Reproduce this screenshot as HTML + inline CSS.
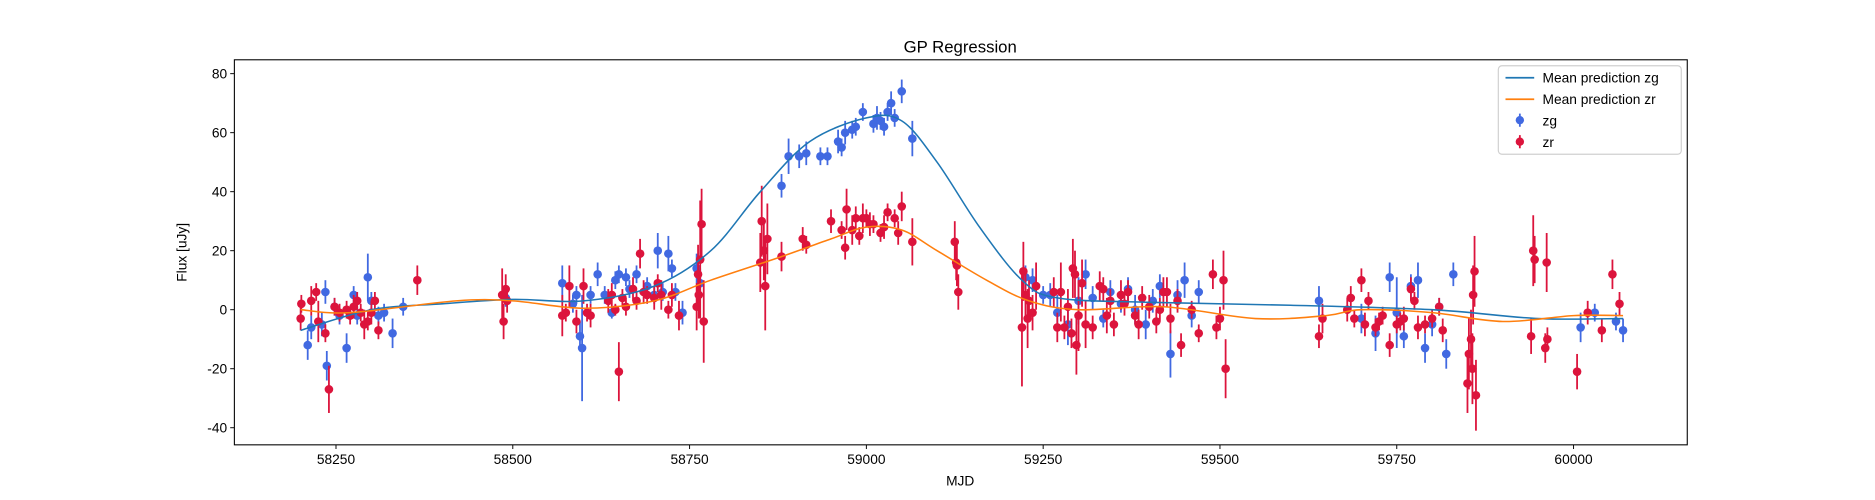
<!DOCTYPE html>
<html><head><meta charset="utf-8"><style>
body{margin:0;background:#fff;}
svg{display:block;}
svg text{font-family:"Liberation Sans","DejaVu Sans",sans-serif;fill:#000;}
</style></head><body>
<svg id="chart" width="1875" height="500" viewBox="0 0 1568 418.13" preserveAspectRatio="none" xmlns="http://www.w3.org/2000/svg">
<rect width="1568" height="419" fill="#fff"/>
<text x="803" y="44" font-size="14" text-anchor="middle">GP Regression</text>
<g id="plot"></g>
<g id="axes"></g>
<text x="803" y="406" font-size="11.5" text-anchor="middle">MJD</text>
<text transform="translate(156,211) rotate(-90)" font-size="11.5" text-anchor="middle">Flux [uJy]</text>
<g>
<rect x="1253" y="55" width="153" height="74" rx="3" fill="#fff" stroke="#ccc" opacity="0.9"/>
<line x1="1259" y1="65" x2="1283" y2="65" stroke="#1f77b4" stroke-width="1.5"/>
<text x="1290" y="69" font-size="11.5">Mean prediction zg</text>
<line x1="1259" y1="83" x2="1283" y2="83" stroke="#ff7f0e" stroke-width="1.5"/>
<text x="1290" y="87" font-size="11.5">Mean prediction zr</text>
<line x1="1271" y1="95" x2="1271" y2="106" stroke="#4169e1" stroke-width="1.5"/>
<circle cx="1271" cy="100.5" r="3.5" fill="#4169e1"/>
<text x="1290" y="105" font-size="11.5">zg</text>
<line x1="1271" y1="113" x2="1271" y2="124" stroke="#dc143c" stroke-width="1.5"/>
<circle cx="1271" cy="118.5" r="3.5" fill="#dc143c"/>
<text x="1290" y="123" font-size="11.5">zr</text>
</g>
</svg>
<script>
const xTicks=[58250,58500,58750,59000,59250,59500,59750,60000];
const yTicks=[-40,-20,0,20,40,60,80];
const zgMeanX=[58200,58300,58400,58500,58600,58700,58780,58850,58920,59000,59050,59100,59160,59220,59270,59400,59600,59800,59950,60070];
const zgMeanY=[-7,0,2,3.5,3,8,20,40,57,65,64,50,28,10,4,2.5,1.5,0,-3,-3];
const zrMeanX=[58200,58270,58420,58500,58600,58700,58780,58880,58950,59000,59050,59100,59170,59230,59300,59420,59550,59650,59700,59800,59900,60000,60070];
const zrMeanY=[0,-1,3,3,0.5,3,10,18,24,28,27,20,10,3,0,1,-3,-2,0,-1,-4,-2,-2];
const zgMjd=[58210,58215,58230,58235,58237,58248,58255,58265,58275,58280,58295,58300,58310,58318,58330,58345,58490,58570,58585,58590,58595,58598,58610,58620,58630,58640,58645,58650,58660,58665,58675,58690,58700,58705,58712,58720,58725,58730,58740,58760,58765,58880,58890,58905,58915,58935,58945,58960,58965,58970,58980,58985,58995,59010,59015,59020,59025,59030,59035,59040,59050,59065,59225,59235,59250,59260,59270,59285,59300,59310,59320,59335,59345,59360,59370,59380,59395,59405,59415,59430,59440,59450,59460,59470,59640,59700,59720,59740,59750,59760,59770,59780,59790,59800,59810,59820,59830,60010,60030,60060,60070];
const zgFlux=[-12,-6,-5,6,-19,1,-2,-13,5,-2,11,3,-2,-1,-8,1,4,9,2,5,-9,-13,5,12,5,-1,10,12,11,7,12,8,5,20,6,19,14,6,-1,14,9,42,52,52,53,52,52,57,55,60,61,62,67,63,65,64,62,67,70,65,74,58,11,10,5,5,-1,-5,3,12,4,-3,6,2,7,0,-5,3,8,-15,5,10,-2,6,3,-3,-8,11,-1,-9,8,10,-13,-5,1,-15,12,-6,-1,-4,-7];
const zgErr=[5,4,4,4,5,3,3,5,3,3,8,3,3,3,5,3,3,6,3,3,5,18,3,4,3,2,3,3,3,3,3,3,3,6,3,6,3,3,4,5,5,4,6,4,4,3,3,4,3,4,3,3,3,3,4,3,3,3,4,3,4,6,4,4,3,4,6,7,8,5,4,3,4,3,4,5,5,4,4,8,5,6,4,4,5,5,6,5,12,4,4,6,5,4,3,5,4,5,3,3,4];
const zrMjd=[58200,58201,58215,58222,58225,58235,58240,58248,58255,58265,58270,58275,58280,58285,58290,58295,58300,58305,58310,58365,58485,58487,58490,58492,58570,58575,58580,58590,58600,58605,58610,58635,58640,58645,58650,58655,58660,58670,58675,58680,58685,58690,58700,58705,58710,58720,58725,58735,58760,58762,58765,58767,58770,58763,58850,58852,58855,58857,58860,58880,58910,58915,58950,58965,58970,58972,58980,58985,58990,58995,59000,59005,59010,59020,59025,59030,59040,59045,59050,59065,59125,59127,59128,59130,59220,59222,59225,59228,59230,59235,59240,59265,59270,59275,59280,59285,59290,59292,59295,59297,59300,59305,59310,59320,59330,59335,59340,59345,59350,59360,59365,59370,59380,59385,59390,59400,59410,59415,59420,59425,59430,59440,59445,59460,59470,59490,59495,59500,59505,59508,59640,59645,59680,59685,59690,59700,59705,59710,59720,59725,59730,59740,59750,59755,59760,59770,59775,59780,59790,59800,59810,59815,59850,59852,59855,59857,59858,59860,59862,59940,59943,59945,59960,59962,59963,60005,60020,60040,60055,60065];
const zrFlux=[-3,2,3,6,-4,-8,-27,1,-1,0,-2,1,3,-1,-5,-4,-1,3,-7,10,5,-4,7,3,-2,-1,8,-4,8,-1,-2,3,5,0,-21,4,1,7,3,19,6,5,4,9,5,0,5,-2,1,12,17,29,-4,5,16,30,20,8,24,18,24,22,30,27,21,34,27,31,25,31,31,29,29,26,28,33,31,26,35,23,23,16,15,6,-6,13,5,-3,3,-1,8,6,-6,6,-6,1,-8,14,12,-12,-2,9,-5,-6,8,7,-2,3,-5,5,2,6,-2,-5,4,1,-4,0,6,6,-3,3,-12,0,-8,12,-6,-3,10,-20,-9,-3,0,4,-3,10,-5,3,-6,-4,-2,-12,-5,-4,-3,7,3,-6,-5,-3,1,-7,-25,-15,-10,-20,5,13,-29,-9,20,17,-13,16,-10,-21,-1,-7,12,2];
const zrErr=[4,3,5,3,7,3,8,3,3,3,3,4,3,3,5,3,4,3,3,5,9,6,5,4,7,3,7,4,6,3,4,4,4,2,10,3,3,4,3,5,4,3,4,3,5,3,4,5,8,10,20,12,14,8,10,12,10,15,12,5,4,3,4,3,4,7,5,4,3,5,3,4,3,3,4,3,3,4,5,8,7,6,7,6,20,10,8,10,7,6,8,5,5,10,4,6,5,10,8,10,12,8,8,4,5,4,6,4,4,5,4,4,3,5,4,4,4,4,5,5,5,4,4,3,3,5,4,4,10,10,4,5,4,4,3,4,4,3,3,3,3,4,3,3,4,4,3,4,3,3,3,4,10,12,10,12,10,12,12,6,12,8,5,10,4,6,4,4,5,4];

const L=196,R=1411,T=50,B=372;
const XMIN=58106.3,XMAX=60160.8,YMIN=-45.8,YMAX=84.7;
const sx=v=>L+(v-XMIN)/(XMAX-XMIN)*(R-L);
const sy=v=>B-(v-YMIN)/(YMAX-YMIN)*(B-T);
const NS='http://www.w3.org/2000/svg';
const plot=document.getElementById('plot'),axes=document.getElementById('axes');
function mk(tag,attrs,parent){const e=document.createElementNS(NS,tag);for(const k in attrs)e.setAttribute(k,attrs[k]);parent.appendChild(e);return e;}
function smooth(xs,ys){const p=xs.map((x,i)=>[sx(x),sy(ys[i])]);let d='M'+p[0][0]+','+p[0][1];
for(let i=0;i<p.length-1;i++){const p0=p[i-1]||p[i],p1=p[i],p2=p[i+1],p3=p[i+2]||p2;
d+=' C'+(p1[0]+(p2[0]-p0[0])/6)+','+(p1[1]+(p2[1]-p0[1])/6)+' '+(p2[0]-(p3[0]-p1[0])/6)+','+(p2[1]-(p3[1]-p1[1])/6)+' '+p2[0]+','+p2[1];}return d;}
function series(xs,ys,es,col,name){const g=mk('g',{},plot);


xs.forEach((x,i)=>{const l=mk('line',{x1:sx(x),x2:sx(x),y1:sy(ys[i]-es[i]),y2:sy(ys[i]+es[i]),stroke:col,'stroke-width':1.5},g);


const c=mk('circle',{cx:sx(x),cy:sy(ys[i]),r:3.6,fill:col},g);

});}
series(zgMjd,zgFlux,zgErr,'#4169e1','zg');
series(zrMjd,zrFlux,zrErr,'#dc143c','zr');
const l1=mk('path',{d:smooth(zgMeanX,zgMeanY),fill:'none',stroke:'#1f77b4','stroke-width':1.3},plot);


const l2=mk('path',{d:smooth(zrMeanX,zrMeanY),fill:'none',stroke:'#ff7f0e','stroke-width':1.3},plot);


const fr=mk('rect',{x:L,y:T,width:R-L,height:B-T,fill:'none',stroke:'#000','stroke-width':0.9},axes);


xTicks.forEach(v=>{mk('line',{x1:sx(v),x2:sx(v),y1:B,y2:B+3.5,stroke:'#000','stroke-width':0.8},axes);
const t=mk('text',{x:sx(v),y:B+16,'font-size':11.5,'text-anchor':'middle'},axes);t.textContent=v;

});
yTicks.forEach(v=>{mk('line',{x1:L-3.5,x2:L,y1:sy(v),y2:sy(v),stroke:'#000','stroke-width':0.8},axes);
const t=mk('text',{x:L-6,y:sy(v)+4,'font-size':11.5,'text-anchor':'end'},axes);t.textContent=v;

});
</script>
</body></html>
